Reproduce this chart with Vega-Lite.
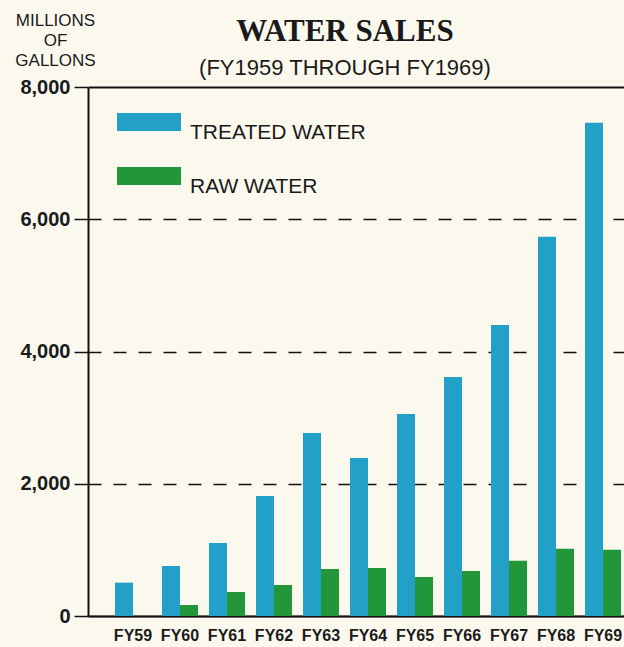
{
  "$schema": "https://vega.github.io/schema/vega-lite/v6.json",
  "width": 536,
  "height": 529,
  "autosize": {"type": "none"},
  "padding": {"left": 88, "top": 87, "right": 0, "bottom": 31},
  "background": "#fbf9ee",
  "title": {
    "text": "WATER SALES",
    "subtitle": "(FY1959 THROUGH FY1969)",
    "font": "Liberation Serif",
    "fontSize": 31,
    "fontWeight": "bold",
    "color": "#1a1a1a",
    "subtitleFont": "Liberation Sans",
    "subtitleFontSize": 22,
    "subtitleColor": "#1a1a1a",
    "subtitlePadding": 10,
    "anchor": "middle",
    "offset": 8,
    "dx": -11,
    "dy": 77
  },
  "data": {
    "values": [
      {"year": "FY59", "type": "TREATED WATER", "value": 504},
      {"year": "FY59", "type": "RAW WATER", "value": 0},
      {"year": "FY60", "type": "TREATED WATER", "value": 756},
      {"year": "FY60", "type": "RAW WATER", "value": 166},
      {"year": "FY61", "type": "TREATED WATER", "value": 1104},
      {"year": "FY61", "type": "RAW WATER", "value": 363},
      {"year": "FY62", "type": "TREATED WATER", "value": 1815},
      {"year": "FY62", "type": "RAW WATER", "value": 469},
      {"year": "FY63", "type": "TREATED WATER", "value": 2768},
      {"year": "FY63", "type": "RAW WATER", "value": 711},
      {"year": "FY64", "type": "TREATED WATER", "value": 2390},
      {"year": "FY64", "type": "RAW WATER", "value": 726},
      {"year": "FY65", "type": "TREATED WATER", "value": 3056},
      {"year": "FY65", "type": "RAW WATER", "value": 590},
      {"year": "FY66", "type": "TREATED WATER", "value": 3616},
      {"year": "FY66", "type": "RAW WATER", "value": 680},
      {"year": "FY67", "type": "TREATED WATER", "value": 4402},
      {"year": "FY67", "type": "RAW WATER", "value": 837},
      {"year": "FY68", "type": "TREATED WATER", "value": 5734},
      {"year": "FY68", "type": "RAW WATER", "value": 1018},
      {"year": "FY69", "type": "TREATED WATER", "value": 7458},
      {"year": "FY69", "type": "RAW WATER", "value": 1003}
    ]
  },
  "mark": {"type": "bar"},
  "encoding": {
    "x": {
      "field": "year",
      "type": "nominal",
      "sort": null,
      "scale": {"range": [0, 560], "paddingInner": 0.234, "paddingOuter": 0.574},
      "axis": {
        "title": null,
        "labelAngle": 0,
        "ticks": false,
        "labelFont": "Liberation Sans",
        "labelFontSize": 16,
        "labelFontWeight": "bold",
        "labelColor": "#1a1a1a",
        "labelPadding": 11,
        "domainColor": "#111111",
        "domainWidth": 2
      }
    },
    "xOffset": {"field": "type", "sort": ["TREATED WATER", "RAW WATER"]},
    "y": {
      "field": "value",
      "type": "quantitative",
      "scale": {"domain": [0, 8000]},
      "axis": {
        "title": ["MILLIONS", "OF", "GALLONS"],
        "titleAngle": 0,
        "titleAlign": "center",
        "titleBaseline": "alphabetic",
        "titleX": -33,
        "titleY": -62,
        "titleFont": "Liberation Sans",
        "titleFontSize": 17,
        "titleFontWeight": "normal",
        "titleLineHeight": 20,
        "titleColor": "#1a1a1a",
        "values": [0, 2000, 4000, 6000, 8000],
        "format": ",d",
        "labelFont": "Liberation Sans",
        "labelFontSize": 20,
        "labelFontWeight": "bold",
        "labelColor": "#1a1a1a",
        "labelPadding": 4,
        "labelFlush": false,
        "tickSize": 14,
        "tickWidth": 1.5,
        "tickColor": "#111111",
        "domainColor": "#111111",
        "domainWidth": 2,
        "grid": true,
        "gridColor": "#111111",
        "gridOpacity": 1,
        "gridWidth": {"condition": {"test": "datum.value === 8000", "value": 2}, "value": 1.5},
        "gridDash": {"condition": {"test": "datum.value === 8000 || datum.value === 0", "value": []}, "value": [13, 12]}
      }
    },
    "color": {
      "field": "type",
      "type": "nominal",
      "scale": {"domain": ["TREATED WATER", "RAW WATER"], "range": ["#22a0c8", "#22973a"]},
      "legend": {
        "title": null,
        "orient": "none",
        "legendX": 29,
        "legendY": 3,
        "symbolType": "M-1,-0.28L1,-0.28L1,0.28L-1,0.28Z",
        "symbolSize": 4096,
        "symbolStrokeWidth": 0,
        "symbolOpacity": 1,
        "labelFont": "Liberation Sans",
        "labelFontSize": 21,
        "labelBaseline": "top",
        "labelColor": "#1a1a1a",
        "labelOffset": 9,
        "labelLimit": 300,
        "rowPadding": 1
      }
    }
  },
  "config": {"view": {"stroke": null}}
}
